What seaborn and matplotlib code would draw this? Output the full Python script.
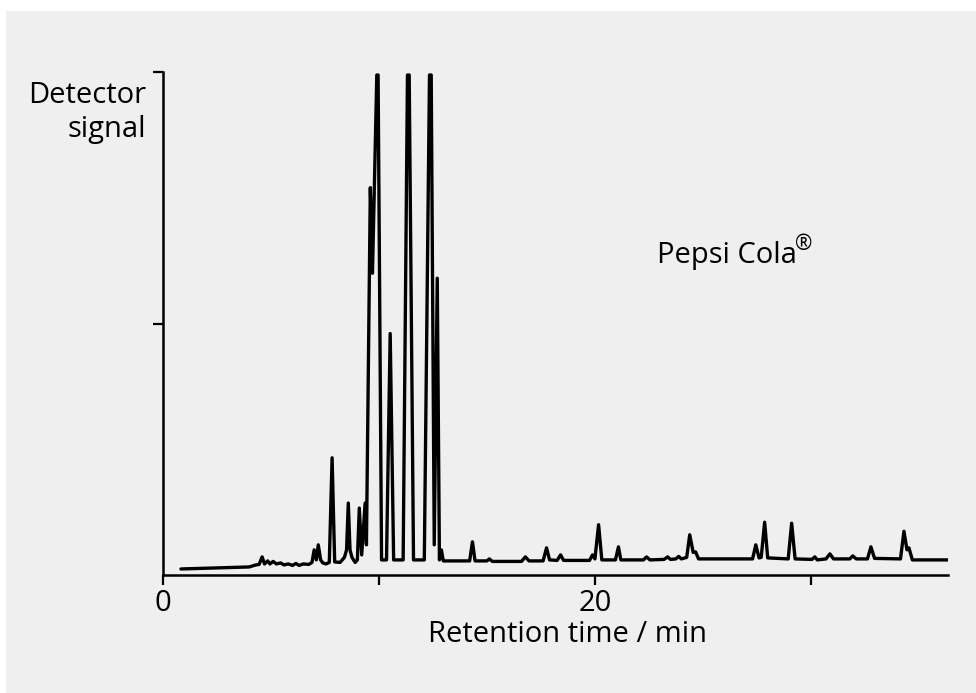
import matplotlib
matplotlib.use("Agg")
import matplotlib.pyplot as plt
import seaborn as sns
import pandas as pd
from matplotlib.patches import Rectangle

# chromatogram trace (minutes, relative detector signal)
trace_time = [0.83, 3.99, 4.3, 4.45, 4.59, 4.7, 4.85, 4.95, 5.1, 5.25, 5.45, 5.6, 5.8, 6.0, 6.15, 6.3, 6.5, 6.75,
              6.9, 7.0, 7.1, 7.19, 7.3, 7.4, 7.55, 7.7, 7.83, 7.95, 8.2, 8.4, 8.5, 8.58, 8.66, 8.75, 8.9, 9.0,
              9.09, 9.2, 9.36, 9.42, 9.6, 9.7, 9.9, 9.96, 10.12, 10.35, 10.52, 10.68, 11.12, 11.32, 11.4, 11.6,
              12.1, 12.34, 12.42, 12.56, 12.70, 12.8, 12.89, 12.98,
              14.2, 14.33, 14.45, 15.0, 15.11, 15.25, 16.6, 16.78, 16.95, 17.6, 17.76, 17.9, 18.25, 18.41, 18.55,
              19.75, 19.89, 20.0, 20.17, 20.32, 20.95, 21.09, 21.2, 22.25, 22.39, 22.55, 23.2, 23.37, 23.5,
              23.75, 23.88, 24.0, 24.25, 24.39, 24.55, 24.66, 24.8, 27.3, 27.45, 27.6, 27.7, 27.86, 28.0,
              28.95, 29.11, 29.27, 30.05, 30.18, 30.3, 30.7, 30.88, 31.05, 31.8, 31.94, 32.1, 32.62, 32.78,
              32.95, 34.15, 34.31, 34.45, 34.54, 34.7, 36.39]
trace_signal = [0.012, 0.016, 0.02, 0.021, 0.036, 0.022, 0.028, 0.022, 0.027, 0.022, 0.024, 0.02, 0.022, 0.019,
                0.023, 0.019, 0.022, 0.021,
                0.025, 0.05, 0.03, 0.06, 0.03, 0.024, 0.022, 0.025, 0.233, 0.026, 0.025, 0.035, 0.05, 0.143,
                0.05, 0.035, 0.025, 0.03, 0.133, 0.04, 0.143, 0.06, 0.77, 0.6, 0.994, 0.994, 0.03, 0.03, 0.48,
                0.03, 0.03, 0.994, 0.994, 0.03, 0.03, 0.994, 0.994, 0.06, 0.59, 0.03, 0.05, 0.028,
                0.028, 0.066, 0.028, 0.028, 0.032, 0.027, 0.027, 0.036, 0.028, 0.028, 0.054, 0.03, 0.029, 0.04,
                0.029, 0.029, 0.04, 0.032, 0.10, 0.03, 0.03, 0.056, 0.03, 0.03, 0.036, 0.03, 0.031, 0.036,
                0.031, 0.032, 0.037, 0.032, 0.035, 0.08, 0.045, 0.046, 0.032, 0.032, 0.06, 0.034, 0.035,
                0.105, 0.034, 0.032, 0.103, 0.032, 0.031, 0.036, 0.03, 0.032, 0.042, 0.032, 0.032, 0.038,
                0.032, 0.032, 0.056, 0.033, 0.032, 0.087, 0.05, 0.054, 0.03, 0.03]

x_ticks = [0, 10, 20, 30]
x_tick_labels = ["0", "", "20", ""]
y_ticks = [0.5, 1.0]

sns.set_style("ticks")
plt.rcParams["font.family"] = ["Open Sans", "DejaVu Sans"]
plt.rcParams["text.color"] = "black"
plt.rcParams["xtick.color"] = "black"
plt.rcParams["ytick.color"] = "black"
plt.rcParams["axes.labelcolor"] = "black"

bg = "#efefef"
fig = plt.figure(figsize=(9.76, 6.93), dpi=100, facecolor="white")
fig.patches.append(Rectangle((6 / 976, 0), 1 - 6 / 976, 1 - 11 / 693, transform=fig.transFigure,
                             facecolor=bg, edgecolor="none", zorder=-1))
ax = fig.add_axes([163 / 976, 1 - 575 / 693, (948 - 163) / 976, (575 - 72) / 693])
ax.set_facecolor(bg)

df = pd.DataFrame({"time": trace_time, "signal": trace_signal})
sns.lineplot(data=df, x="time", y="signal", sort=False, estimator=None, color="black", lw=2.4, ax=ax)

ax.set_xlim(0, 36.35)
ax.set_ylim(0, 1)
ax.set_xticks(x_ticks)
ax.set_xticklabels(x_tick_labels, fontsize=21)
ax.set_yticks(y_ticks)
ax.set_yticklabels([])
ax.tick_params(axis="both", direction="out", length=7, width=1.6, colors="black", pad=3)
for s in ["top", "right"]:
    ax.spines[s].set_visible(False)
for s in ["left", "bottom"]:
    ax.spines[s].set_linewidth(1.8)
    ax.spines[s].set_color("black")

ax.set_xlabel("Retention time / min", fontsize=21, color="black")
ax.xaxis.set_label_coords((568 - 163) / (948 - 163), -0.09)
ax.set_ylabel("")

fig.text(146 / 976, 1 - 103 / 693, "Detector", ha="right", va="baseline", fontsize=21, color="black")
fig.text(146 / 976, 1 - 137 / 693, "signal", ha="right", va="baseline", fontsize=21, color="black")
fig.text(657 / 976, 1 - 263 / 693, "Pepsi Cola", ha="left", va="baseline", fontsize=21, color="black")
fig.text(795 / 976, 1 - 250 / 693, "®", ha="left", va="baseline", fontsize=15, color="black")

fig.savefig("out.png", dpi=100, facecolor="white")
